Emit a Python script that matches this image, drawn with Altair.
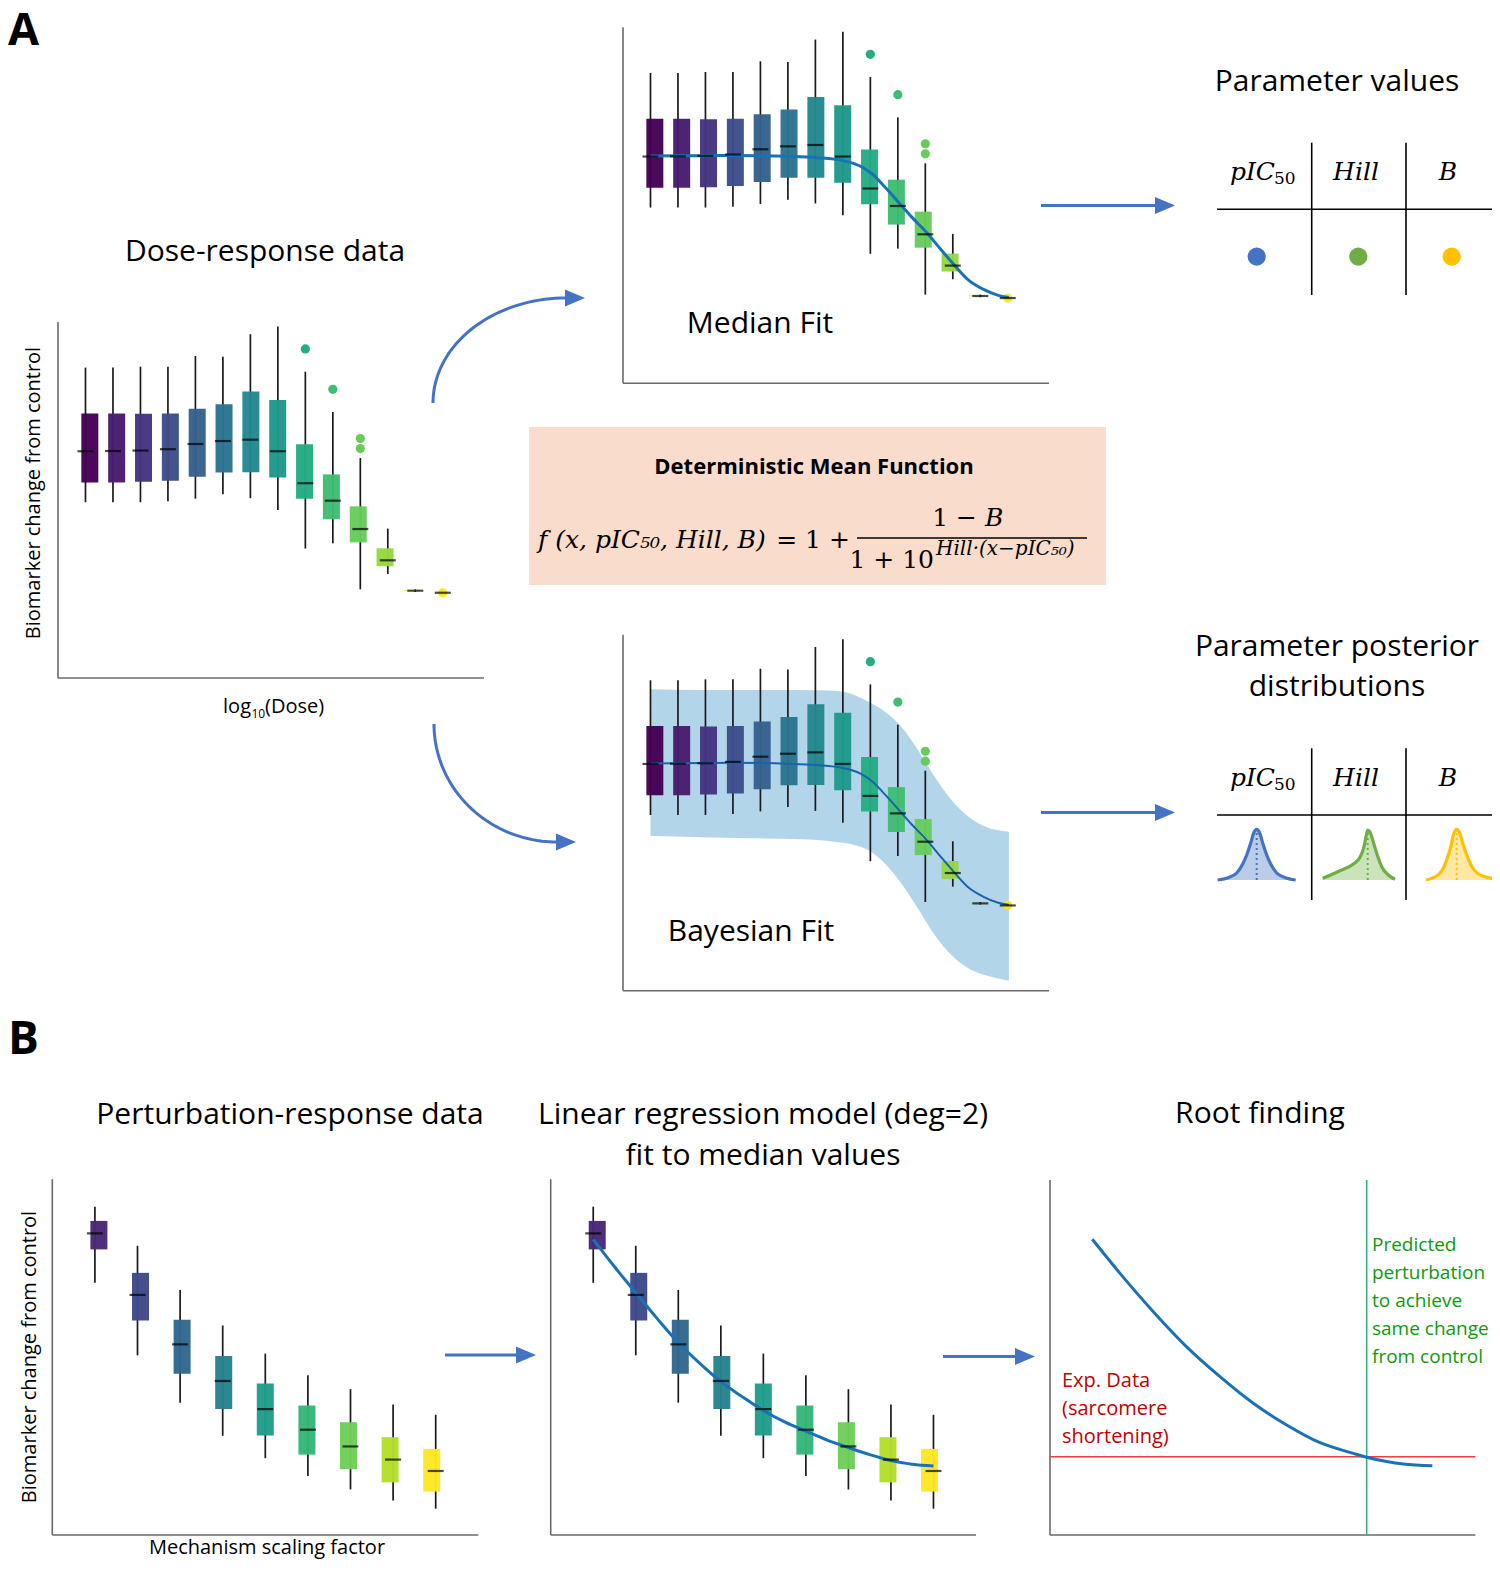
import altair as alt
import numpy as np
import pandas as pd

# ===================== values =====================
# ---- A: dose-response box plots (the same data appears in three panels) ----
dose_level = [1, 2, 3, 4, 5, 6, 7, 8, 9, 10, 11, 12, 13, 14]
dose_color = ["#440154", "#481c6e", "#453581", "#3d4d8a", "#34618d", "#2b748e", "#24878e",
              "#1f998a", "#25ac82", "#40bd72", "#67cc5c", "#95d840", "#cae11f", "#fde725"]
dose_whisker_low = [0.775, 0.775, 0.775, 0.779, 0.791, 0.810, 0.793, 0.741, 0.571, 0.594, 0.391, 0.459, 0.380, 0.376]
dose_q1 = [0.862, 0.862, 0.865, 0.870, 0.888, 0.906, 0.907, 0.884, 0.790, 0.700, 0.598, 0.493, 0.384, 0.376]
dose_median = [1.000, 1.001, 1.003, 1.009, 1.032, 1.045, 1.051, 1.000, 0.859, 0.782, 0.657, 0.519, 0.385, 0.376]
dose_q3 = [1.167, 1.167, 1.165, 1.167, 1.187, 1.207, 1.263, 1.226, 1.031, 0.898, 0.757, 0.572, 0.387, 0.376]
dose_whisker_high = [1.369, 1.369, 1.373, 1.373, 1.420, 1.417, 1.516, 1.550, 1.351, 1.173, 0.970, 0.659, 0.391, 0.376]
outlier_level = [9, 10, 11, 11, 14]
outlier_value = [1.451, 1.273, 1.056, 1.012, 0.376]
outlier_color = ["#25ac82", "#40bd72", "#67cc5c", "#67cc5c", "#fde725"]

# median (sigmoid) fit curve
fit_level = [1.00, 1.96, 3.01, 3.97, 5.03, 5.99, 7.05, 8.01, 8.66, 9.07, 9.52, 10.01,
             10.49, 11.07, 11.58, 12.05, 12.56, 13.10, 13.65, 14.04]
fit_value = [1.002, 1.003, 1.004, 1.005, 1.004, 1.001, 0.995, 0.982, 0.956, 0.923, 0.867, 0.801,
             0.735, 0.662, 0.588, 0.522, 0.456, 0.415, 0.388, 0.379]

# Bayesian credible band
band_level = [1.0, 2.82, 4.65, 6.47, 7.69, 8.42, 8.91, 9.52, 10.12, 10.73, 11.34, 11.95, 12.56, 13.17, 14.04]
band_upper = [1.329, 1.326, 1.326, 1.326, 1.323, 1.304, 1.275, 1.231, 1.165, 1.062, 0.944, 0.841, 0.768, 0.724, 0.701]
band_lower = [0.682, 0.677, 0.672, 0.668, 0.657, 0.643, 0.621, 0.562, 0.474, 0.363, 0.246, 0.157, 0.099, 0.069, 0.044]

# ---- B: perturbation-response box plots ----
pert_level = [1, 2, 3, 4, 5, 6, 7, 8, 9]
pert_color = ["#482878", "#3e4989", "#31688e", "#26828e", "#1f9e89", "#35b779", "#6ece58", "#b5de2b", "#fde725"]
pert_whisker_low = [0.709, 0.505, 0.372, 0.279, 0.216, 0.166, 0.128, 0.097, 0.074]
pert_q1 = [0.803, 0.603, 0.453, 0.354, 0.280, 0.226, 0.185, 0.148, 0.122]
pert_median = [0.848, 0.675, 0.536, 0.433, 0.354, 0.296, 0.249, 0.212, 0.180]
pert_q3 = [0.883, 0.737, 0.605, 0.503, 0.426, 0.364, 0.317, 0.275, 0.242]
pert_whisker_high = [0.923, 0.813, 0.689, 0.589, 0.510, 0.449, 0.410, 0.367, 0.338]

# quadratic regression through medians
reg_level = [1.0, 1.5, 2.0, 2.5, 3.0, 3.5, 4.0, 4.5, 5.0, 5.5, 6.0, 6.5, 7.0, 7.5, 8.0, 8.5, 9.0]
reg_value = [0.831, 0.754, 0.681, 0.609, 0.541, 0.483, 0.431, 0.389, 0.350, 0.318, 0.292, 0.267, 0.246, 0.226, 0.209, 0.199, 0.194]

# root finding panel
root_x = [0.995, 1.646, 2.429, 3.213, 3.997, 4.780, 5.564, 6.348, 7.132, 7.446, 7.916, 8.307, 8.990]
root_y = [0.833, 0.737, 0.629, 0.530, 0.446, 0.371, 0.310, 0.260, 0.230, 0.219, 0.207, 0.200, 0.195]
exp_data_value = 0.2206
predicted_factor = 7.446

# posterior distribution icons (offset from peak, height above base)
post_dx_pic50 = [-39, -28, -20, -14, -10, -6, -3, 0, 3, 6, 10, 14, 20, 28, 39]
post_h_pic50 = [0, 2.5, 7, 16, 25, 37, 47, 50.7, 47, 37, 25, 16, 7, 2.5, 0]
post_dx_hill = [-45, -27.7, -14.3, -7.7, -3.7, -1.7, 0, 2.3, 5, 9, 14, 20.7, 27.3]
post_h_hill = [1.7, 9.3, 16, 22.7, 33.3, 43.3, 50, 48, 40, 26.7, 13.3, 5, 0.7]
post_dx_b = [-30.7, -22, -15, -10, -6, -3, 0, 3, 6, 10, 16, 26, 40.7]
post_h_b = [0, 3, 9, 20, 33, 46, 50.7, 47, 37, 25, 12, 4, 1]

# ===================== layout & style =====================
W, H = 1484, 1554
M = 8
SANS = "Open Sans"
MATH = "DejaVu Serif"
ARROW = "#4472c4"
AXIS = "#6a6a6a"
FIT = "#1a72b6"

CXS = alt.Scale(domain=[M, M + W], range=[0, W], nice=False, zero=False)
CYS = alt.Scale(domain=[M, M + H], range=[0, H], nice=False, zero=False)


def CX(f):
    return alt.X(f"{f}:Q", scale=CXS, axis=None)


def CY(f):
    return alt.Y(f"{f}:Q", scale=CYS, axis=None)


def pscale(dom, lo, hi):
    return alt.Scale(domain=dom, range=[lo - M, hi - M], nice=False, zero=False)


layers = []


def axes_layers(xs, ys, xdom, ydom):
    ax = pd.DataFrame({"x": [xdom[0]], "x2": [xdom[1]], "y": [ydom[0]], "y2": [ydom[1]]})
    X = lambda f: alt.X(f"{f}:Q", scale=xs, axis=None)
    Y = lambda f: alt.Y(f"{f}:Q", scale=ys, axis=None)
    return [
        alt.Chart(ax).mark_rule(color=AXIS, strokeWidth=1.6).encode(x=X("x"), y=Y("y"), y2="y2"),
        alt.Chart(ax).mark_rule(color=AXIS, strokeWidth=1.6).encode(x=X("x"), x2="x2", y=Y("y")),
    ]


def box_panel(frame, xdom, ydom, box, out=None, fit=None, band=None, fit_width=3, fit_color=FIT):
    x0, x1, yb, yt = frame
    xs = pscale(xdom, x0, x1)
    ys = pscale(ydom, yb, yt)
    X = lambda f: alt.X(f"{f}:Q", scale=xs, axis=None)
    Y = lambda f: alt.Y(f"{f}:Q", scale=ys, axis=None)
    res = axes_layers(xs, ys, xdom, ydom)
    if band is not None:
        res.append(alt.Chart(band).mark_area(color="#b3d5e9", opacity=1, interpolate="monotone")
                   .encode(x=X("level"), y=Y("lower"), y2="upper"))
    res.append(alt.Chart(box).mark_rule(color="#1a1a1a", strokeWidth=1.7)
               .encode(x=X("level"), y=Y("wlo"), y2="whi"))
    res.append(alt.Chart(box).mark_bar(size=17, opacity=0.97)
               .encode(x=X("level"), y=Y("q1"), y2="q3", color=alt.Color("color:N", scale=None)))
    if out is not None:
        res.append(alt.Chart(out).mark_circle(size=85, opacity=1)
                   .encode(x=X("level"), y=Y("value"), color=alt.Color("color:N", scale=None)))
    if fit is not None:
        res.append(alt.Chart(fit).mark_line(color=fit_color, strokeWidth=fit_width, interpolate="monotone")
                   .encode(x=X("level"), y=Y("value")))
    res.append(alt.Chart(box).mark_tick(orient="horizontal", size=16, thickness=2.2, color="black")
               .encode(x=X("level"), y=Y("med")))
    return res


dose_box = pd.DataFrame({"level": dose_level, "color": dose_color, "wlo": dose_whisker_low, "q1": dose_q1,
                         "med": dose_median, "q3": dose_q3, "whi": dose_whisker_high})
dose_out = pd.DataFrame({"level": outlier_level, "value": outlier_value, "color": outlier_color})
fit_df = pd.DataFrame({"level": fit_level, "value": fit_value})
band_df = pd.DataFrame({"level": band_level, "upper": band_upper, "lower": band_lower})
pert_box = pd.DataFrame({"level": pert_level, "color": pert_color, "wlo": pert_whisker_low, "q1": pert_q1,
                         "med": pert_median, "q3": pert_q3, "whi": pert_whisker_high})
reg_df = pd.DataFrame({"level": reg_level, "value": reg_value})

A_XDOM, A_YDOM = [0, 15.5], [0, 1.57]
layers += box_panel((58, 484, 678, 322), A_XDOM, A_YDOM, dose_box, dose_out)
layers += box_panel((623, 1049, 383.3, 27.3), A_XDOM, A_YDOM, dose_box, dose_out, fit=fit_df)
layers += box_panel((623, 1049, 990.7, 634.7), A_XDOM, A_YDOM, dose_box, dose_out, fit=fit_df,
                    band=band_df, fit_width=2, fit_color="#1764ab")

B_XDOM, B_YDOM = [0, 10], [0, 1]
layers += box_panel((52.3, 478.3, 1535, 1179.3), B_XDOM, B_YDOM, pert_box)
layers += box_panel((550.7, 976, 1535, 1179.3), B_XDOM, B_YDOM, pert_box, fit=reg_df)

# root finding panel
rxs = pscale([0, 10], 1050, 1475.3)
rys = pscale([0, 1], 1535, 1180)
RX = lambda f: alt.X(f"{f}:Q", scale=rxs, axis=None)
RY = lambda f: alt.Y(f"{f}:Q", scale=rys, axis=None)
layers += axes_layers(rxs, rys, [0, 10], [0, 1])
layers.append(alt.Chart(pd.DataFrame({"x": [0], "x2": [10], "y": [exp_data_value]}))
              .mark_rule(color="#ee3d3d", strokeWidth=1.6).encode(x=RX("x"), x2="x2", y=RY("y")))
layers.append(alt.Chart(pd.DataFrame({"x": [predicted_factor], "y": [0], "y2": [1]}))
              .mark_rule(color="#35b07c", strokeWidth=1.6).encode(x=RX("x"), y=RY("y"), y2="y2"))
layers.append(alt.Chart(pd.DataFrame({"x": root_x, "y": root_y}))
              .mark_line(color=FIT, strokeWidth=3, interpolate="monotone").encode(x=RX("x"), y=RY("y")))

# ---- formula box ----
layers.append(alt.Chart(pd.DataFrame({"x": [529], "x2": [1106], "y": [427], "y2": [585]}))
              .mark_rect(color="#f9dccb").encode(x=CX("x"), x2="x2", y=CY("y"), y2="y2"))
layers.append(alt.Chart(pd.DataFrame({"x": [857], "x2": [1087], "y": [538]}))
              .mark_rule(color="black", strokeWidth=1.5).encode(x=CX("x"), x2="x2", y=CY("y")))

# ---- tables ----
tbl_rules_h = pd.DataFrame({"x": [1217, 1217], "x2": [1498, 1498], "y": [209.3, 815]})
tbl_rules_v = pd.DataFrame({"x": [1311.7, 1406, 1311.7, 1406], "y": [142.7, 142.7, 748.3, 748.3],
                            "y2": [295, 295, 900, 900]})
layers.append(alt.Chart(tbl_rules_h).mark_rule(color="black", strokeWidth=1.6)
              .encode(x=CX("x"), x2="x2", y=CY("y")))
layers.append(alt.Chart(tbl_rules_v).mark_rule(color="black", strokeWidth=1.6)
              .encode(x=CX("x"), y=CY("y"), y2="y2"))
layers.append(alt.Chart(pd.DataFrame({"x": [1256.7, 1358.3, 1451.7], "y": [256.7] * 3,
                                      "c": ["#4472c4", "#70ad47", "#ffc000"]}))
              .mark_circle(size=330, opacity=1).encode(x=CX("x"), y=CY("y"), color=alt.Color("c:N", scale=None)))

# posterior icons
icons = [(post_dx_pic50, post_h_pic50, 1256.7, "#4472c4", "#b4c7e7"),
         (post_dx_hill, post_h_hill, 1367.7, "#70ad47", "#c5e0b4"),
         (post_dx_b, post_h_b, 1456.7, "#ffc000", "#ffe699")]
BASE = 880
for dx, hh, px, line_c, fill_c in icons:
    d = pd.DataFrame({"x": [px + v for v in dx], "y": [BASE - v for v in hh], "y0": [BASE] * len(dx)})
    layers.append(alt.Chart(d).mark_area(color=fill_c, opacity=0.9, interpolate="monotone")
                  .encode(x=CX("x"), y=CY("y"), y2="y0"))
    layers.append(alt.Chart(pd.DataFrame({"x": [px], "y": [BASE], "y2": [BASE - max(hh)]}))
                  .mark_rule(color=line_c, strokeWidth=2, strokeDash=[2, 3]).encode(x=CX("x"), y=CY("y"), y2="y2"))
    layers.append(alt.Chart(d).mark_line(color=line_c, strokeWidth=3.2, interpolate="monotone")
                  .encode(x=CX("x"), y=CY("y")))

# ---- arrows ----
arc_specs = [(566, 403, 133, 105, np.pi, np.pi / 2), (557, 724, 123, 118, np.pi, 1.5 * np.pi)]
for cxv, cyv, rx, ry, t0, t1 in arc_specs:
    t = np.linspace(t0, t1, 40)
    d = pd.DataFrame({"i": np.arange(40), "x": cxv + rx * np.cos(t), "y": cyv - ry * np.sin(t)})
    layers.append(alt.Chart(d).mark_line(color=ARROW, strokeWidth=3)
                  .encode(x=CX("x"), y=CY("y"), order="i:Q"))
shafts = pd.DataFrame({"x": [1041, 1041, 445, 943], "x2": [1160, 1160, 520, 1019],
                       "y": [205.5, 812.5, 1355, 1356.5]})
layers.append(alt.Chart(shafts).mark_rule(color=ARROW, strokeWidth=3).encode(x=CX("x"), x2="x2", y=CY("y")))
heads = pd.DataFrame({"x": [1165, 1165, 526, 1025, 575, 566], "y": [205.5, 812.5, 1355, 1356.5, 298, 842]})
layers.append(alt.Chart(heads).mark_point(shape="M -1 -0.85 L 1 0 L -1 0.85 Z", filled=True, size=400,
                                          color=ARROW, opacity=1).encode(x=CX("x"), y=CY("y")))


# ---- text ----
def text_layer(items, size, font=SANS, weight="normal", style="normal", color="black", align="center",
               baseline="middle", angle=0):
    df = pd.DataFrame(items, columns=["x", "y", "text"])
    return alt.Chart(df).mark_text(font=font, fontSize=size, fontWeight=weight, fontStyle=style, color=color,
                                   align=align, baseline=baseline, angle=angle).encode(
        x=CX("x"), y=CY("y"), text="text:N")


layers.append(text_layer([(8, 9, "A")], 45, weight="bold", align="left", baseline="top"))
layers.append(text_layer([(8, 1054, "B")], 46, weight="bold", align="left", baseline="alphabetic"))
layers.append(text_layer([
    (265, 252, "Dose-response data"),
    (760, 324, "Median Fit"),
    (751, 932, "Bayesian Fit"),
    (1337, 82, "Parameter values"),
    (1337, 647, "Parameter posterior"),
    (1337, 687, "distributions"),
    (290, 1115, "Perturbation-response data"),
    (763, 1115, "Linear regression model (deg=2)"),
    (763, 1156, "fit to median values"),
    (1260, 1114, "Root finding"),
], 30))
layers.append(text_layer([(34, 493, "Biomarker change from control"), (30, 1357, "Biomarker change from control")],
                         20, angle=270))
layers.append(text_layer([(267, 1548, "Mechanism scaling factor")], 20))
layers.append(text_layer([(251, 707, "log")], 20, align="right"))
layers.append(text_layer([(251.5, 714, "10")], 12, align="left"))
layers.append(text_layer([(265, 707, "(Dose)")], 20, align="left"))
layers.append(text_layer([(814, 467, "Deterministic Mean Function")], 22, weight="bold"))
layers.append(text_layer([(1062, 1381, "Exp. Data"), (1062, 1409, "(sarcomere"), (1062, 1437, "shortening)")],
                         20, color="#c00000", align="left"))
layers.append(text_layer([(1372, 1245, "Predicted"), (1372, 1273, "perturbation"), (1372, 1301, "to achieve"),
                          (1372, 1329, "same change"), (1372, 1357, "from control")],
                         19, color="#0e9a0e", align="left"))

# formula and table headers (math)
layers.append(text_layer([(538, 540, "f (x, pIC₅₀, Hill, B)")], 25, font=MATH, style="italic", align="left"))
layers.append(text_layer([(813, 540, "= 1 +")], 25, font=MATH))
layers.append(text_layer([(977, 518, "1 −")], 25, font=MATH, align="right"))
layers.append(text_layer([(985, 518, "B")], 25, font=MATH, style="italic", align="left"))
layers.append(text_layer([(934, 560, "1 + 10")], 25, font=MATH, align="right"))
layers.append(text_layer([(936, 549, "Hill·(x−pIC₅₀)")], 20, font=MATH, style="italic", align="left"))
layers.append(text_layer([(1275, 172, "pIC"), (1275, 778, "pIC")], 25, font=MATH, style="italic", align="right"))
layers.append(text_layer([(1274, 179, "50"), (1274, 785, "50")], 17, font=MATH, align="left"))
layers.append(text_layer([(1356, 172, "Hill"), (1448, 172, "B"), (1356, 778, "Hill"), (1448, 778, "B")],
                         25, font=MATH, style="italic"))

chart = (alt.layer(*layers)
         .resolve_scale(x="independent", y="independent")
         .properties(width=W, height=H, padding=0, background="white",
                     autosize=alt.AutoSizeParams(type="none"))
         .configure_view(stroke=None))

chart.save("out.html", embed_options={"renderer": "svg", "actions": False})
